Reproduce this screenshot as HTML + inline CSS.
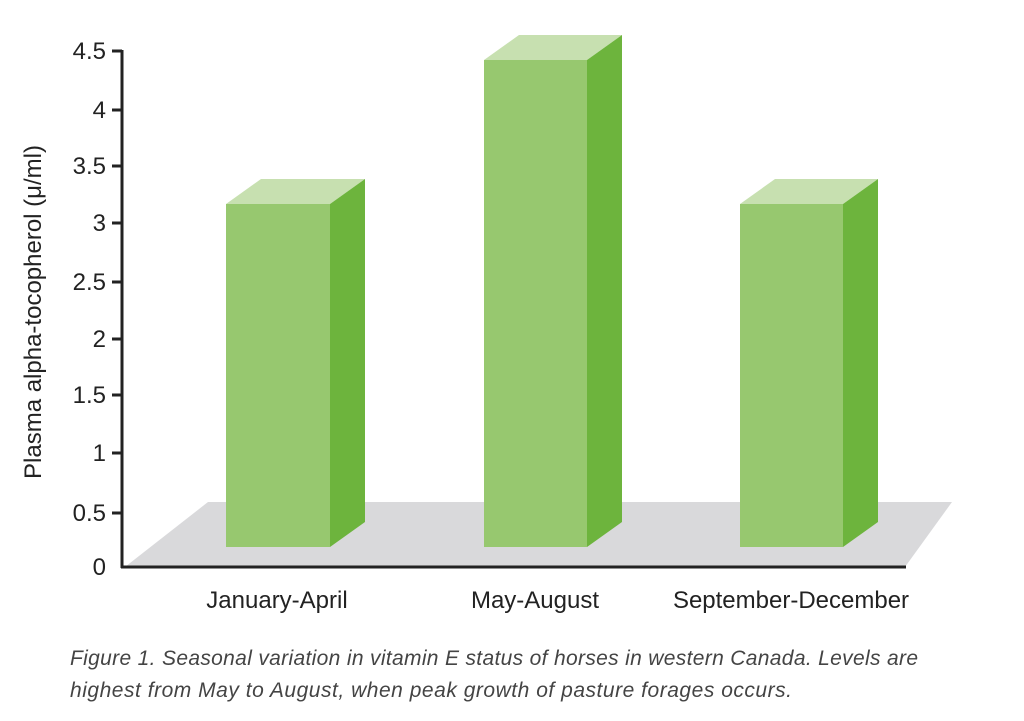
<!DOCTYPE html>
<html><head><style>
body{margin:0;background:#fff;}
</style></head><body>
<svg width="1024" height="716" xmlns="http://www.w3.org/2000/svg" font-family="Liberation Sans, sans-serif">
<polygon points="125,567 905,567 952,502 208,502" fill="#d9d9db"/>
<g>
<polygon points="226,204 261,179 365,179 330,204" fill="#c7e0b0"/>
<polygon points="330,204 365,179 365,522 330,547" fill="#6db43d"/>
<rect x="226" y="204" width="104" height="343" fill="#97c86f"/>
<polygon points="484,60 519,35 622,35 587,60" fill="#c7e0b0"/>
<polygon points="587,60 622,35 622,522 587,547" fill="#6db43d"/>
<rect x="484" y="60" width="103" height="487" fill="#97c86f"/>
<polygon points="740,204 775,179 878,179 843,204" fill="#c7e0b0"/>
<polygon points="843,204 878,179 878,522 843,547" fill="#6db43d"/>
<rect x="740" y="204" width="103" height="343" fill="#97c86f"/>
</g>
<g stroke="#222" stroke-width="3" fill="none">
<line x1="122" y1="50" x2="122" y2="568"/>
<line x1="121" y1="567" x2="906" y2="567"/>
<line x1="112" y1="51" x2="122" y2="51"/>
<line x1="112" y1="110" x2="122" y2="110"/>
<line x1="112" y1="166" x2="122" y2="166"/>
<line x1="112" y1="223" x2="122" y2="223"/>
<line x1="112" y1="282" x2="122" y2="282"/>
<line x1="112" y1="339" x2="122" y2="339"/>
<line x1="112" y1="395" x2="122" y2="395"/>
<line x1="112" y1="453" x2="122" y2="453"/>
<line x1="112" y1="513" x2="122" y2="513"/>
</g>
<g font-size="24" fill="#222" text-anchor="end">
<text x="106" y="59">4.5</text>
<text x="106" y="118">4</text>
<text x="106" y="174">3.5</text>
<text x="106" y="231">3</text>
<text x="106" y="290">2.5</text>
<text x="106" y="347">2</text>
<text x="106" y="403">1.5</text>
<text x="106" y="461">1</text>
<text x="106" y="521">0.5</text>
<text x="106" y="575">0</text>
</g>
<text transform="translate(41,312) rotate(-90)" font-size="24" fill="#222" text-anchor="middle">Plasma alpha-tocopherol (μ/ml)</text>
<g font-size="24" fill="#222" text-anchor="middle">
<text x="277" y="608">January-April</text>
<text x="535" y="608">May-August</text>
<text x="791" y="608">September-December</text>
</g>
<g font-size="21" fill="#444" font-style="italic">
<text x="70" y="665" textLength="848">Figure 1. Seasonal variation in vitamin E status of horses in western Canada. Levels are</text>
<text x="70" y="697" textLength="722">highest from May to  August, when peak growth of pasture forages occurs.</text>
</g>
</svg>
</body></html>
